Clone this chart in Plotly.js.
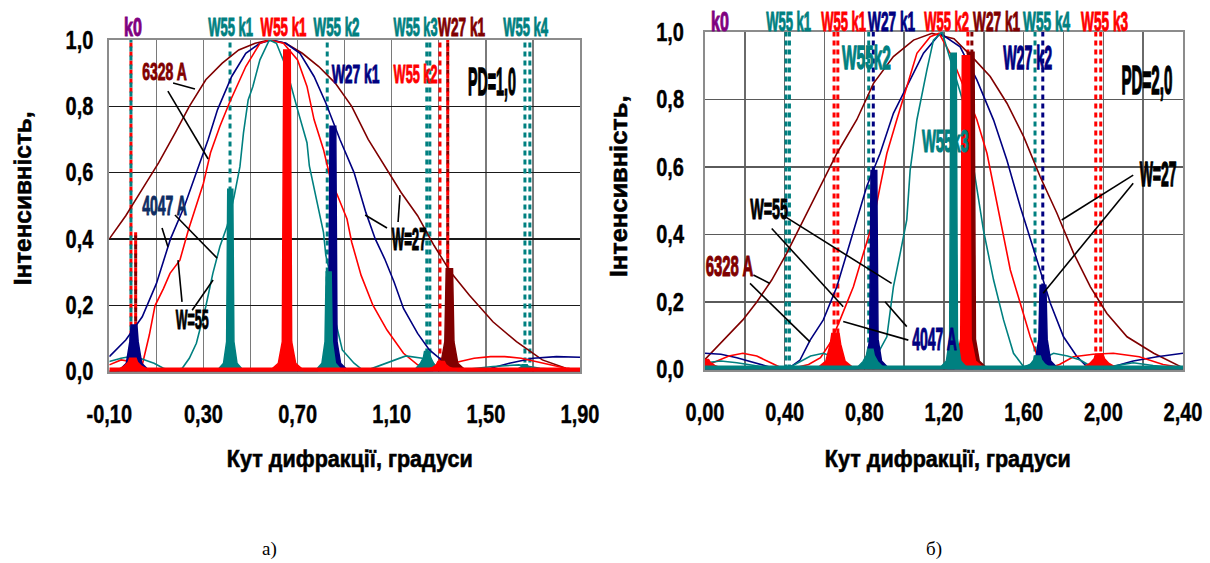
<!DOCTYPE html>
<html>
<head>
<meta charset="utf-8">
<script src="https://cdn.plot.ly/plotly-3.0.1.min.js"></script>
<style>
  html, body { margin: 0; padding: 0; background: #ffffff; }
  #chart { width: 1210px; height: 563px; }
</style>
</head>
<body>
<div id="chart"></div>
<script>
// ===== Panel а): PD = 1,0 — diffraction envelopes (angle in degrees, normalised intensity) =====
const a_maroon_x = [-0.10, -0.03, 0.04, 0.11, 0.18, 0.24, 0.31, 0.38, 0.45, 0.52, 0.58, 0.65, 0.72, 0.79, 0.86, 0.93, 1.00, 1.07, 1.14, 1.21, 1.28, 1.35, 1.43, 1.53, 1.63, 1.74, 1.84, 1.90];
const a_maroon_y = [0.40, 0.47, 0.55, 0.63, 0.72, 0.80, 0.88, 0.93, 0.97, 0.99, 1.00, 0.99, 0.96, 0.92, 0.87, 0.80, 0.70, 0.62, 0.54, 0.47, 0.38, 0.30, 0.23, 0.15, 0.09, 0.035, 0.01, 0.005];

const a_navy_x = [-0.10, -0.03, 0.04, 0.10, 0.16, 0.22, 0.27, 0.32, 0.36, 0.42, 0.48, 0.54, 0.59, 0.65, 0.71, 0.77, 0.82, 0.88, 0.94, 0.99, 1.03, 1.07, 1.11, 1.15, 1.21, 1.26, 1.32, 1.39, 1.45, 1.52, 1.60, 1.70, 1.80, 1.90];
const a_navy_y = [0.045, 0.095, 0.165, 0.265, 0.40, 0.50, 0.60, 0.70, 0.79, 0.89, 0.96, 0.99, 1.00, 0.99, 0.96, 0.89, 0.81, 0.70, 0.60, 0.48, 0.40, 0.34, 0.27, 0.19, 0.115, 0.065, 0.03, 0.01, 0.005, 0.01, 0.025, 0.04, 0.045, 0.043];

const a_red_x = [-0.10, -0.05, -0.01, 0.02, 0.035, 0.05, 0.07, 0.094, 0.13, 0.158, 0.20, 0.236, 0.27, 0.30, 0.33, 0.37, 0.41, 0.43, 0.48, 0.54, 0.58, 0.64, 0.70, 0.74, 0.77, 0.81, 0.84, 0.87, 0.91, 0.93, 0.97, 1.02, 1.08, 1.15, 1.21, 1.26, 1.32, 1.39, 1.45, 1.52, 1.58, 1.65, 1.74, 1.84, 1.90];
const a_red_y = [0.02, 0.035, 0.03, 0.01, 0.005, 0.05, 0.11, 0.198, 0.25, 0.296, 0.336, 0.427, 0.50, 0.568, 0.66, 0.74, 0.81, 0.84, 0.92, 0.99, 1.00, 0.99, 0.94, 0.86, 0.76, 0.67, 0.58, 0.53, 0.46, 0.39, 0.29, 0.20, 0.125, 0.055, 0.02, 0.01, 0.015, 0.03, 0.04, 0.045, 0.045, 0.04, 0.025, 0.01, 0.005];

const a_teal_x = [-0.10, -0.05, -0.01, 0.03, 0.09, 0.13, 0.17, 0.21, 0.24, 0.27, 0.31, 0.34, 0.37, 0.40, 0.43, 0.455, 0.47, 0.49, 0.51, 0.54, 0.58, 0.61, 0.65, 0.68, 0.70, 0.74, 0.75, 0.78, 0.81, 0.82, 0.84, 0.86, 0.89, 0.94, 0.97, 1.00, 1.04, 1.08, 1.16, 1.23, 1.29, 1.33, 1.40, 1.53, 1.64, 1.73, 1.82, 1.90];
const a_teal_y = [0.03, 0.04, 0.045, 0.04, 0.025, 0.01, 0.003, 0.01, 0.04, 0.085, 0.196, 0.296, 0.377, 0.437, 0.527, 0.618, 0.719, 0.819, 0.86, 0.94, 1.00, 0.99, 0.92, 0.84, 0.79, 0.69, 0.62, 0.52, 0.42, 0.35, 0.29, 0.155, 0.065, 0.025, 0.008, 0.005, 0.015, 0.025, 0.047, 0.04, 0.015, 0.005, 0.005, 0.015, 0.02, 0.01, 0.005, 0.005];

// Sharp grating orders (angle, peak height, series)
const a_peak_x = [0.005, 0.0, 0.414, 0.655, 0.832, 0.85, 1.25, 1.31, 1.345, 1.665];
const a_peak_y = [0.14, 0.04, 0.55, 0.97, 0.30, 0.74, 0.06, 0.03, 0.31, 0.02];
const a_peak_s = ['navy', 'red', 'teal', 'red', 'teal', 'navy', 'teal', 'red', 'maroon', 'teal'];

// Order markers (angle, lower and upper end, series)
const a_mark_x    = [-0.008, -0.008, 0.012, 0.012, 0.413, 0.826, 1.249, 1.262, 1.305, 1.338, 1.338, 1.666, 1.687];
const a_mark_from = [0, 0.015, 0, 0.015, 0, 0, 0, 0, 0, 0, 0.015, 0, 0];
const a_mark_to   = [1, 1, 0.42, 0.42, 1, 1, 1, 1, 1, 1, 1, 1, 1];
const a_mark_s    = ['red', 'teal', 'red', 'maroon', 'teal', 'teal', 'teal', 'teal', 'red', 'maroon', 'red', 'teal', 'teal'];

const a_tick_x_vals = [-0.1, 0.1, 0.3, 0.5, 0.7, 0.9, 1.1, 1.3, 1.5, 1.7, 1.9];
const a_tick_x_text = ['-0,10', '', '0,30', '', '0,70', '', '1,10', '', '1,50', '', '1,90'];

// ===== Panel б): PD = 2,0 =====
const b_maroon_x = [0.00, 0.05, 0.10, 0.19, 0.26, 0.335, 0.41, 0.494, 0.578, 0.662, 0.762, 0.846, 0.946, 1.047, 1.14, 1.25, 1.34, 1.432, 1.516, 1.60, 1.683, 1.767, 1.851, 1.935, 2.018, 2.119, 2.253, 2.387, 2.40];
const b_maroon_y = [0.03, 0.06, 0.09, 0.147, 0.20, 0.265, 0.344, 0.443, 0.542, 0.64, 0.74, 0.848, 0.927, 0.976, 0.996, 0.98, 0.927, 0.868, 0.789, 0.69, 0.571, 0.463, 0.344, 0.245, 0.166, 0.097, 0.048, 0.008, 0.005];

const b_navy_x = [0.00, 0.08, 0.16, 0.25, 0.32, 0.377, 0.43, 0.477, 0.528, 0.594, 0.662, 0.712, 0.762, 0.812, 0.879, 0.946, 1.013, 1.097, 1.181, 1.281, 1.365, 1.449, 1.516, 1.583, 1.667, 1.734, 1.80, 1.868, 1.918, 1.98, 2.06, 2.15, 2.27, 2.40];
const b_navy_y = [0.048, 0.045, 0.035, 0.02, 0.008, 0.002, 0.008, 0.028, 0.087, 0.147, 0.245, 0.344, 0.443, 0.542, 0.64, 0.759, 0.838, 0.937, 0.996, 0.956, 0.858, 0.739, 0.62, 0.482, 0.324, 0.196, 0.097, 0.038, 0.008, 0.003, 0.01, 0.025, 0.038, 0.048];

const b_red_x = [0.00, 0.06, 0.12, 0.19, 0.26, 0.33, 0.39, 0.45, 0.52, 0.58, 0.63, 0.678, 0.745, 0.795, 0.846, 0.879, 0.913, 0.963, 1.013, 1.064, 1.131, 1.175, 1.231, 1.298, 1.365, 1.416, 1.449, 1.482, 1.533, 1.583, 1.633, 1.683, 1.72, 1.78, 1.85, 1.95, 2.05, 2.18, 2.30, 2.40];
const b_red_y = [0.01, 0.025, 0.04, 0.048, 0.04, 0.02, 0.003, 0.005, 0.015, 0.035, 0.08, 0.147, 0.245, 0.344, 0.443, 0.542, 0.64, 0.74, 0.838, 0.937, 0.986, 0.996, 0.937, 0.838, 0.74, 0.64, 0.542, 0.443, 0.295, 0.196, 0.097, 0.018, 0.003, 0.015, 0.038, 0.045, 0.048, 0.038, 0.015, 0.005];

const b_teal_x = [0.00, 0.08, 0.16, 0.24, 0.32, 0.41, 0.47, 0.53, 0.594, 0.66, 0.72, 0.77, 0.82, 0.87, 0.913, 0.946, 0.98, 1.013, 1.03, 1.064, 1.114, 1.147, 1.19, 1.248, 1.298, 1.332, 1.365, 1.398, 1.449, 1.499, 1.549, 1.60, 1.66, 1.75, 1.82, 1.884, 1.95, 2.05, 2.15, 2.25, 2.40];
const b_teal_y = [0.02, 0.025, 0.02, 0.012, 0.005, 0.002, 0.02, 0.04, 0.048, 0.035, 0.01, 0.003, 0.015, 0.05, 0.097, 0.245, 0.344, 0.443, 0.59, 0.74, 0.887, 0.976, 1.00, 0.887, 0.789, 0.66, 0.542, 0.413, 0.265, 0.147, 0.048, 0.008, 0.02, 0.048, 0.04, 0.028, 0.005, 0.01, 0.02, 0.012, 0.003];

const b_peak_x = [0.0, 0.655, 0.83, 0.848, 1.248, 1.31, 1.335, 1.67, 1.697, 1.98];
const b_peak_y = [0.03, 0.107, 0.06, 0.59, 0.937, 0.93, 0.94, 0.04, 0.25, 0.045];
const b_peak_s = ['red', 'red', 'teal', 'navy', 'teal', 'red', 'maroon', 'teal', 'navy', 'red'];

const b_mark_x    = [0.407, 0.424, 0.648, 0.667, 0.822, 0.845, 1.32, 1.34, 1.657, 1.696, 1.962, 1.987];
const b_mark_from = [0, 0, 0, 0, 0, 0, 0, 0, 0, 0, 0, 0];
const b_mark_to   = [1, 1, 1, 1, 1, 1, 1, 1, 1, 1, 1, 1];
const b_mark_s    = ['teal', 'teal', 'red', 'red', 'teal', 'navy', 'red', 'maroon', 'teal', 'navy', 'red', 'red'];

const b_tick_x_vals = [0, 0.2, 0.4, 0.6, 0.8, 1.0, 1.2, 1.4, 1.6, 1.8, 2.0, 2.2, 2.4];
const b_tick_x_text = ['0,00', '', '0,40', '', '0,80', '', '1,20', '', '1,60', '', '2,00', '', '2,40'];

const y_tick_vals = [0, 0.2, 0.4, 0.6, 0.8, 1.0];
const y_tick_text = ['0,0', '0,2', '0,4', '0,6', '0,8', '1,0'];

// ===== Styling =====
const COL = { maroon: '#800000', navy: '#000080', red: '#ff0000', teal: '#008080', purple: '#800080', label4047: '#0e2d63', black: '#000000' };
const SANS = "'Liberation Sans', Arial, sans-serif";
const SERIF = "'Liberation Serif', 'Times New Roman', serif";

// Pixel geometry of the two plotting areas (page is 1210 x 563)
const W = 1210, H = 563;
const boxA = { l: 109.3, r: 580, t: 40, b: 371.5, x0: -0.1, x1: 1.9 };
const boxB = { l: 705, r: 1183, t: 32, b: 369.5, x0: 0, x1: 2.4 };
const pxPerUnit = box => (box.r - box.l) / (box.x1 - box.x0);

const traces = [];

function addMarkers(xs, from, to, ser, xa, ya) {
  xs.forEach((x, i) => {
    traces.push({
      x: [x, x], y: [from[i], to[i]], xaxis: xa, yaxis: ya,
      mode: 'lines', hoverinfo: 'skip', showlegend: false,
      line: { color: COL[ser[i]], width: 3, dash: '5px,4px' }
    });
  });
}

function addCurve(x, y, ser, xa, ya) {
  traces.push({
    x: x, y: y, xaxis: xa, yaxis: ya, mode: 'lines', hoverinfo: 'skip', showlegend: false,
    line: { color: COL[ser], width: 1.6 }
  });
}

// Narrow diffraction orders: filled spike on a zero baseline for one series
function addPeaks(px, py, ps, ser, box, halfPx, xa, ya) {
  const s = pxPerUnit(box);
  const w = halfPx / s;
  const idx = px.map((v, i) => i).filter(i => ps[i] === ser).sort((a, b) => px[a] - px[b]);
  const X = [box.x0], Y = [0];
  idx.forEach(i => {
    const c = px[i], h = py[i];
    const yA = Math.min(0.025, h * 0.4), yB = Math.min(0.09, h * 0.7);
    X.push(c - 5 * w, c - 2.4 * w, c - 1.3 * w, c - 0.9 * w, c + 0.9 * w, c + 1.3 * w, c + 2.4 * w, c + 5 * w);
    Y.push(0, yA, yB, h, h, yB, yA, 0);
  });
  X.push(box.x1); Y.push(0);
  traces.push({
    x: X, y: Y, xaxis: xa, yaxis: ya, mode: 'lines', fill: 'tozeroy', fillcolor: COL[ser],
    hoverinfo: 'skip', showlegend: false, line: { color: COL[ser], width: 1.5 }
  });
}

function addBaseline(box, ser, xa, ya) {
  traces.push({
    x: [box.x0, box.x1], y: [0, 0], xaxis: xa, yaxis: ya, mode: 'lines',
    hoverinfo: 'skip', showlegend: false, line: { color: COL[ser], width: 8 }
  });
}

// Panel а)
addMarkers(a_mark_x, a_mark_from, a_mark_to, a_mark_s, 'x', 'y');
addCurve(a_maroon_x, a_maroon_y, 'maroon', 'x', 'y');
addCurve(a_navy_x, a_navy_y, 'navy', 'x', 'y');
addCurve(a_red_x, a_red_y, 'red', 'x', 'y');
addCurve(a_teal_x, a_teal_y, 'teal', 'x', 'y');
addPeaks(a_peak_x, a_peak_y, a_peak_s, 'maroon', boxA, 3.5, 'x', 'y');
addPeaks(a_peak_x, a_peak_y, a_peak_s, 'navy', boxA, 3.2, 'x', 'y');
addPeaks(a_peak_x, a_peak_y, a_peak_s, 'teal', boxA, 2.8, 'x', 'y');
addPeaks(a_peak_x, a_peak_y, a_peak_s, 'red', boxA, 3.6, 'x', 'y');
addBaseline(boxA, 'red', 'x', 'y');

// Panel б)
addMarkers(b_mark_x, b_mark_from, b_mark_to, b_mark_s, 'x2', 'y2');
addCurve(b_maroon_x, b_maroon_y, 'maroon', 'x2', 'y2');
addCurve(b_navy_x, b_navy_y, 'navy', 'x2', 'y2');
addCurve(b_red_x, b_red_y, 'red', 'x2', 'y2');
addCurve(b_teal_x, b_teal_y, 'teal', 'x2', 'y2');
addPeaks(b_peak_x, b_peak_y, b_peak_s, 'maroon', boxB, 3.5, 'x2', 'y2');
addPeaks(b_peak_x, b_peak_y, b_peak_s, 'navy', boxB, 3.2, 'x2', 'y2');
addPeaks(b_peak_x, b_peak_y, b_peak_s, 'red', boxB, 4.0, 'x2', 'y2');
addPeaks(b_peak_x, b_peak_y, b_peak_s, 'teal', boxB, 3.0, 'x2', 'y2');
addBaseline(boxB, 'teal', 'x2', 'y2');

// ===== Text labels =====
// Lettering is condensed bold: each label is drawn in a bold sans and then squeezed to
// its width (px) and stretched vertically by sy after rendering.
const annotations = [];
const fit = [];
function label(text, x, y, xref, yref, color, size, width, sy, extra) {
  annotations.push(Object.assign({
    text: text, x: x, y: y, xref: xref, yref: yref, showarrow: false,
    xanchor: 'center', yanchor: 'middle',
    font: { family: SANS, size: size, color: color, weight: 'bold' }
  }, extra || {}));
  fit.push({ width: width, sy: sy, color: color });
}

const topA = 1 - 26.5 / H, topB = 1 - 21.5 / H;
// order labels above panel а)
label('k0', -0.001, topA, 'x', 'paper', COL.purple, 16, 18, 1.65);
label('W55 k1', 0.416, topA, 'x', 'paper', COL.teal, 16, 45, 1.65);
label('W55 k1', 0.640, topA, 'x', 'paper', COL.red, 16, 46, 1.65);
label('W55 k2', 0.866, topA, 'x', 'paper', COL.teal, 16, 46, 1.65);
label('W55 k3', 1.199, topA, 'x', 'paper', COL.teal, 16, 44, 1.65);
label('W27 k1', 1.398, topA, 'x', 'paper', COL.maroon, 16, 47, 1.65);
label('W55 k4', 1.668, topA, 'x', 'paper', COL.teal, 16, 45, 1.65);
// inside panel а)
label('6328 A', 0.133, 0.904, 'x', 'y', COL.maroon, 16, 45, 1.5);
label('4047 A', 0.133, 0.502, 'x', 'y', COL.label4047, 16, 45, 1.75);
label('W=55', 0.250, 0.156, 'x', 'y', COL.black, 16, 33, 1.75);
label('W=27', 1.173, 0.397, 'x', 'y', COL.black, 16, 35, 2.0);
label('W27 k1', 0.947, 0.897, 'x', 'y', COL.navy, 16, 48, 1.6);
label('W55 k2', 1.199, 0.897, 'x', 'y', COL.red, 16, 44, 1.6);
label('PD=1,0', 1.528, 0.876, 'x', 'y', COL.black, 16, 48, 2.4);

// order labels above panel б)
label('k0', 0.075, topB, 'x2', 'paper', COL.purple, 16, 18, 1.7);
label('W55 k1', 0.418, topB, 'x2', 'paper', COL.teal, 16, 45, 1.7);
label('W55 k1', 0.693, topB, 'x2', 'paper', COL.red, 16, 45, 1.7);
label('W27 k1', 0.935, topB, 'x2', 'paper', COL.navy, 16, 47, 1.7);
label('W55 k2', 1.215, topB, 'x2', 'paper', COL.red, 16, 45, 1.7);
label('W27 k1', 1.466, topB, 'x2', 'paper', COL.maroon, 16, 47, 1.7);
label('W55 k4', 1.713, topB, 'x2', 'paper', COL.teal, 16, 47, 1.7);
label('W55 k3', 2.006, topB, 'x2', 'paper', COL.red, 16, 47, 1.7);
// inside panel б)
label('W55k2', 0.811, 0.923, 'x2', 'y2', COL.teal, 16, 49, 2.1);
label('W27 k2', 1.617, 0.925, 'x2', 'y2', COL.navy, 16, 49, 2.1);
label('PD=2,0', 2.217, 0.855, 'x2', 'y2', COL.black, 16, 51, 2.5);
label('W55k3', 1.210, 0.677, 'x2', 'y2', COL.teal, 16, 47, 2.0);
label('W=27', 2.274, 0.582, 'x2', 'y2', COL.black, 16, 37, 2.2);
label('W=55', 0.322, 0.476, 'x2', 'y2', COL.black, 16, 38, 1.9);
label('6328 A', 0.121, 0.307, 'x2', 'y2', COL.maroon, 16, 48, 1.9);
label('4047 A', 1.150, 0.089, 'x2', 'y2', COL.navy, 16, 45, 2.0);

// axis titles and panel captions
const xTitle = 'Кут дифракції, градуси';
const yTitle = 'Інтенсивність,';
label(xTitle, 350 / W, 1 - 458 / H, 'paper', 'paper', COL.black, 24, 246, 1.0);
label(xTitle, 948 / W, 1 - 458 / H, 'paper', 'paper', COL.black, 24, 246, 1.0);
label(yTitle, 22 / W, 1 - 199 / H, 'paper', 'paper', COL.black, 24, 174, 1.0, { textangle: -90 });
label(yTitle, 618 / W, 1 - 187 / H, 'paper', 'paper', COL.black, 24, 182, 1.0, { textangle: -90 });
annotations.push({ text: 'а)', x: 269 / W, y: 1 - 549 / H, xref: 'paper', yref: 'paper', showarrow: false,
  xanchor: 'center', yanchor: 'middle', font: { family: SERIF, size: 19, color: '#000' } });
fit.push(null);
annotations.push({ text: 'б)', x: 934 / W, y: 1 - 549 / H, xref: 'paper', yref: 'paper', showarrow: false,
  xanchor: 'center', yanchor: 'middle', font: { family: SERIF, size: 19, color: '#000' } });
fit.push(null);

// ===== Leader lines from labels to curves =====
const shapes = [];
function leader(x0, y0, x1, y1, xref, yref) {
  shapes.push({ type: 'line', x0: x0, y0: y0, x1: x1, y1: y1, xref: xref, yref: yref,
    line: { color: '#000000', width: 1.6 }, layer: 'above' });
}
leader(0.171, 0.870, 0.264, 0.852, 'x', 'y');
leader(0.149, 0.846, 0.320, 0.641, 'x', 'y');
leader(0.124, 0.433, 0.149, 0.376, 'x', 'y');
leader(0.179, 0.472, 0.358, 0.342, 'x', 'y');
leader(0.209, 0.210, 0.192, 0.336, 'x', 'y');
leader(0.252, 0.185, 0.341, 0.276, 'x', 'y');
leader(1.080, 0.433, 0.987, 0.472, 'x', 'y');
leader(1.127, 0.451, 1.135, 0.532, 'x', 'y');

leader(0.243, 0.280, 0.326, 0.255, 'x2', 'y2');
leader(0.226, 0.255, 0.527, 0.082, 'x2', 'y2');
leader(0.402, 0.453, 0.937, 0.255, 'x2', 'y2');
leader(0.335, 0.418, 0.694, 0.186, 'x2', 'y2');
leader(1.013, 0.127, 0.904, 0.201, 'x2', 'y2');
leader(1.021, 0.087, 0.694, 0.142, 'x2', 'y2');
leader(2.150, 0.576, 1.791, 0.443, 'x2', 'y2');
leader(2.150, 0.552, 1.698, 0.226, 'x2', 'y2');

// ===== Axes =====
const tickFont = { family: SANS, size: 25, color: '#000', weight: 'bold' };
function xAxis(box, vals, text, anchor, gridColor) {
  return {
    domain: [box.l / W, box.r / W], range: [box.x0, box.x1], anchor: anchor,
    tickmode: 'array', tickvals: vals, ticktext: text, tickfont: tickFont,
    ticks: 'outside', ticklen: 20, tickcolor: 'rgba(0,0,0,0)',
    showgrid: true, gridcolor: gridColor, gridwidth: 1.4, zeroline: false,
    showline: true, mirror: true, linecolor: '#8c8c8c', linewidth: 2, layer: 'below traces',
    fixedrange: true
  };
}
function yAxis(box, anchor, gridColor, standoff) {
  return {
    domain: [1 - box.b / H, 1 - box.t / H], range: [0, 1], anchor: anchor,
    tickmode: 'array', tickvals: y_tick_vals, ticktext: y_tick_text, tickfont: tickFont,
    ticks: 'outside', ticklen: standoff, tickcolor: 'rgba(0,0,0,0)',
    showgrid: true, gridcolor: gridColor, gridwidth: 1.3, zeroline: false,
    showline: true, mirror: true, linecolor: '#8c8c8c', linewidth: 2, layer: 'below traces',
    fixedrange: true
  };
}

const layout = {
  width: W, height: H,
  margin: { l: 0, r: 0, t: 0, b: 0 },
  paper_bgcolor: '#ffffff', plot_bgcolor: '#ffffff',
  showlegend: false,
  xaxis: xAxis(boxA, a_tick_x_vals, a_tick_x_text, 'y', '#7a7a7a'),
  yaxis: yAxis(boxA, 'x', '#1a1a1a', 9),
  xaxis2: xAxis(boxB, b_tick_x_vals, b_tick_x_text, 'y2', '#6a6a6a'),
  yaxis2: yAxis(boxB, 'x2', '#5a5a5a', 14),
  annotations: annotations,
  shapes: shapes
};

// scale a text element about a point of its own box, and give it a slightly heavier stroke
function squeeze(t, sx, sy, anchorEnd, color, weight) {
  const bb = t.getBBox();
  if (!bb.width) return;
  const cx = anchorEnd ? bb.x + bb.width : bb.x + bb.width / 2;
  const cy = bb.y + bb.height / 2;
  const prev = t.getAttribute('transform') || '';
  t.setAttribute('transform', prev + ' translate(' + cx + ',' + cy + ') scale(' + sx + ',' + sy + ') translate(' + (-cx) + ',' + (-cy) + ')');
  t.style.stroke = color;
  t.style.strokeWidth = weight + 'px';
}

const gd = document.getElementById('chart');
Plotly.newPlot(gd, traces, layout, { staticPlot: true, displayModeBar: false }).then(() => {
  gd.querySelectorAll('g.annotation').forEach(g => {
    const f = fit[+g.getAttribute('data-index')];
    const t = g.querySelector('text.annotation-text');
    if (!f || !t) return;
    try {
      const bb = t.getBBox();
      squeeze(t, f.width / bb.width, f.sy, false, f.color, 0.6);
    } catch (e) { /* label stays as drawn */ }
  });
  gd.querySelectorAll('g.xtick text, g.x2tick text').forEach(t => { try { squeeze(t, 0.8, 1, false, '#000', 0.4); } catch (e) {} });
  gd.querySelectorAll('g.ytick text, g.y2tick text').forEach(t => { try { squeeze(t, 0.8, 1, true, '#000', 0.4); } catch (e) {} });
});
</script>
</body>
</html>
